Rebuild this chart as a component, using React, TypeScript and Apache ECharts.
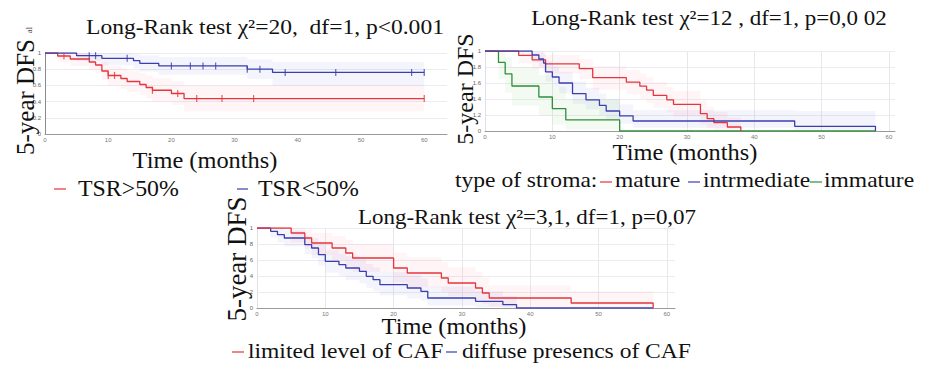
import React, { useEffect, useRef } from "react";
import * as echarts from "echarts";

// ---------- Chart 1 : TSR ----------
const C1_TITLE = "Long-Rank test χ²=20,  df=1, p<0.001";
const C1_LEGEND = ["TSR>50%", "TSR<50%"];
const C1_Y_TICKS = ["0", "0.2", "0.4", "0.6", "0.8", "1"];
const C1_RED_T = [0, 2, 4, 7, 8, 9, 10, 12, 13, 15, 16, 17, 20, 22];
const C1_RED_S = [1, 0.963, 0.926, 0.889, 0.852, 0.778, 0.722, 0.685, 0.648, 0.611, 0.574, 0.54, 0.5, 0.437];
const C1_RED_LO = [1, 0.89, 0.84, 0.79, 0.75, 0.66, 0.6, 0.56, 0.52, 0.48, 0.44, 0.4, 0.36, 0.28];
const C1_RED_HI = [1, 1, 1, 0.97, 0.95, 0.89, 0.84, 0.81, 0.78, 0.75, 0.72, 0.69, 0.65, 0.6];
const C1_RED_END = 60;
const C1_RED_CENSOR = [3, 10, 11, 17, 21, 24, 28, 33, 60];
const C1_BLUE_T = [0, 5, 9, 14, 15, 18, 32, 36];
const C1_BLUE_S = [1, 0.967, 0.934, 0.905, 0.872, 0.84, 0.8, 0.76];
const C1_BLUE_LO = [1, 0.9, 0.85, 0.81, 0.77, 0.73, 0.68, 0.6];
const C1_BLUE_HI = [1, 1, 1, 0.99, 0.97, 0.95, 0.92, 0.89];
const C1_BLUE_END = 60;
const C1_BLUE_CENSOR = [7, 8, 13, 20, 23, 25, 27, 32, 34, 38, 46, 58, 60];

// ---------- Chart 2 : type of stroma ----------
const C2_TITLE = "Long-Rank test χ²=12 , df=1, p=0,0 02";
const C2_LEGEND = ["type of stroma:", "mature", "intrmediate", "immature"];
const C2_Y_TICKS = ["0", "1.2", "1.4", "1.6", "1.8", "1"];
const C2_RED_T = [0, 5, 7, 9, 14, 16, 21, 23, 24, 25, 27, 28, 32, 33, 34, 36, 38];
const C2_RED_S = [1, 0.946, 0.89, 0.84, 0.78, 0.667, 0.61, 0.56, 0.51, 0.445, 0.39, 0.333, 0.217, 0.154, 0.104, 0.05, 0];
const C2_RED_LO = [1, 0.85, 0.78, 0.72, 0.65, 0.52, 0.46, 0.4, 0.35, 0.29, 0.23, 0.18, 0.08, 0.04, 0.01, 0, 0];
const C2_RED_HI = [1, 1, 0.98, 0.95, 0.9, 0.81, 0.76, 0.72, 0.67, 0.61, 0.55, 0.5, 0.38, 0.3, 0.24, 0.17, 0];
const C2_RED_END = 38;
const C2_BLUE_T = [0, 7, 8, 8.7, 9, 10, 11, 13, 15, 17, 18, 20, 22, 46, 58];
const C2_BLUE_S = [1, 0.95, 0.9, 0.85, 0.74, 0.675, 0.6, 0.467, 0.39, 0.32, 0.25, 0.19, 0.125, 0.058, 0];
const C2_BLUE_LO = [1, 0.86, 0.8, 0.74, 0.62, 0.55, 0.47, 0.34, 0.27, 0.2, 0.14, 0.09, 0.04, 0.01, 0];
const C2_BLUE_HI = [1, 1, 0.99, 0.96, 0.87, 0.81, 0.74, 0.62, 0.54, 0.47, 0.4, 0.33, 0.26, 0.25, 0];
const C2_BLUE_END = 58;
const C2_GREEN_T = [0, 2, 3, 4, 8, 10, 12, 20];
const C2_GREEN_S = [1, 0.857, 0.714, 0.5625, 0.425, 0.28, 0.14, 0];
const C2_GREEN_LO = [1, 0.65, 0.48, 0.32, 0.19, 0.08, 0.02, 0];
const C2_GREEN_HI = [1, 1, 0.92, 0.8, 0.7, 0.55, 0.4, 0];
const C2_GREEN_END = 58;

// ---------- Chart 3 : CAF ----------
const C3_TITLE = "Long-Rank test χ²=3,1, df=1, p=0,07";
const C3_LEGEND = ["limited level of CAF", "diffuse presencs of CAF"];
const C3_Y_TICKS = ["0", "2", "4", "6", "8", "1"];
const C3_RED_T = [0, 5, 7, 8, 11, 13, 14, 20, 22, 27, 28, 32, 33, 34, 46, 58];
const C3_RED_S = [1, 0.9375, 0.875, 0.8125, 0.75, 0.6875, 0.625, 0.5, 0.4375, 0.375, 0.3125, 0.25, 0.1875, 0.125, 0.0625, 0];
const C3_RED_LO = [1, 0.82, 0.74, 0.66, 0.59, 0.52, 0.45, 0.32, 0.26, 0.2, 0.15, 0.1, 0.05, 0.02, 0, 0];
const C3_RED_HI = [1, 1, 0.98, 0.94, 0.9, 0.85, 0.8, 0.69, 0.63, 0.57, 0.51, 0.45, 0.38, 0.28, 0.21, 0];
const C3_RED_END = 58;
const C3_BLUE_T = [0, 2, 3, 4, 7, 8, 9, 10, 12, 13, 15, 16, 17, 18, 22, 24, 25, 32, 36, 38];
const C3_BLUE_S = [1, 0.958, 0.917, 0.875, 0.792, 0.75, 0.667, 0.583, 0.542, 0.5, 0.458, 0.396, 0.354, 0.292, 0.25, 0.208, 0.125, 0.083, 0.042, 0];
const C3_BLUE_LO = [1, 0.88, 0.82, 0.77, 0.67, 0.62, 0.53, 0.44, 0.4, 0.35, 0.31, 0.25, 0.21, 0.16, 0.12, 0.09, 0.03, 0.01, 0, 0];
const C3_BLUE_HI = [1, 1, 1, 0.97, 0.9, 0.87, 0.8, 0.72, 0.68, 0.65, 0.61, 0.55, 0.51, 0.45, 0.41, 0.37, 0.27, 0.21, 0.15, 0];
const C3_BLUE_END = 58;

const X_TICKS = [0, 10, 20, 30, 40, 50, 60];

const RED = "#e5353d";
const BLUE = "#3b3fae";
const GREEN = "#2f8f3a";
const RED_BAND = "rgba(250,120,140,0.08)";
const BLUE_BAND = "rgba(120,120,215,0.08)";
const GREEN_BAND = "rgba(130,210,130,0.10)";
const SERIF = "Liberation Serif";
const SX = 1.07;

function stepData(t: number[], s: number[], end: number) {
  const d = t.map((v, i) => [v, s[i]]);
  if (end > t[t.length - 1]) d.push([end, s[s.length - 1]]);
  return d;
}
function bandData(t: number[], lo: number[], hi: number[], end: number) {
  const d: number[][] = [];
  for (let i = 0; i < t.length; i++) {
    const t1 = i + 1 < t.length ? t[i + 1] : end;
    if (t1 > t[i] && hi[i] > lo[i]) d.push([t[i], t1, lo[i], hi[i]]);
  }
  return d;
}
function lookup(t: number[], s: number[], x: number) {
  let v = s[0];
  for (let i = 0; i < t.length; i++) if (t[i] <= x) v = s[i];
  return v;
}

export default function App() {
  const ref = useRef<HTMLDivElement>(null);
  useEffect(() => {
    document.body.style.margin = "0";
    if (!ref.current) return;
    const chart = echarts.init(ref.current, undefined, { renderer: "svg" });

    const grids = [
      { left: 45, top: 53, width: 402, height: 81 },
      { left: 485, top: 51, width: 410, height: 80 },
      { left: 257, top: 228, width: 418, height: 80 },
    ];
    const xMax = [63.6, 60.9, 61.2];
    const yTicks = [C1_Y_TICKS, C2_Y_TICKS, C3_Y_TICKS];
    const vGrid = [false, true, true];

    const xAxis = grids.map((_, i) => ({
      type: "value",
      gridIndex: i,
      min: 0,
      max: xMax[i],
      interval: 10,
      axisTick: { show: false },
      axisLine: { show: true, lineStyle: { color: "#9a9a9a", width: 1 } },
      axisLabel: {
        fontSize: 6,
        color: "#777",
        margin: 3,
        showMaxLabel: false,
        formatter: (v: number) => (X_TICKS.indexOf(Math.round(v)) >= 0 && Math.abs(v - Math.round(v)) < 1e-6 ? String(Math.round(v)) : ""),
      },
      splitLine: { show: vGrid[i], showMaxLine: false, lineStyle: { color: "#e8e8ec", width: 1 } },
    }));
    const yAxis = grids.map((_, i) => ({
      type: "value",
      gridIndex: i,
      min: 0,
      max: 1,
      interval: 0.2,
      axisTick: { show: false },
      axisLine: { show: true, lineStyle: { color: i === 0 ? "#8a8a8a" : "#e0e0e4", width: 1 } },
      axisLabel: {
        fontSize: 6,
        color: "#666",
        margin: 4,
        formatter: (v: number) => yTicks[i][Math.round(v / 0.2)] ?? "",
      },
      splitLine: { show: true, lineStyle: { color: "#ececf0", width: 1 } },
    }));

    const series: any[] = [];
    const addBand = (g: number, t: number[], lo: number[], hi: number[], end: number, color: string) => {
      series.push({
        type: "custom",
        xAxisIndex: g,
        yAxisIndex: g,
        silent: true,
        encode: { x: [0, 1], y: [2, 3] },
        data: bandData(t, lo, hi, end),
        renderItem: (params: any, api: any) => {
          const p0 = api.coord([api.value(0), api.value(3)]);
          const p1 = api.coord([api.value(1), api.value(2)]);
          return {
            type: "rect",
            shape: { x: p0[0], y: p0[1], width: p1[0] - p0[0], height: p1[1] - p0[1] },
            style: { fill: color },
          };
        },
      });
    };
    const addLine = (g: number, t: number[], s: number[], end: number, color: string) => {
      series.push({
        type: "line",
        xAxisIndex: g,
        yAxisIndex: g,
        step: "end",
        showSymbol: false,
        symbol: "none",
        silent: true,
        data: stepData(t, s, end),
        lineStyle: { color, width: 1.3 },
        z: 5,
      });
    };
    const addCensor = (g: number, t: number[], s: number[], c: number[], color: string) => {
      series.push({
        type: "scatter",
        xAxisIndex: g,
        yAxisIndex: g,
        symbol: "rect",
        symbolSize: [1.2, 7],
        silent: true,
        data: c.map((x) => [x, lookup(t, s, x)]),
        itemStyle: { color },
        z: 6,
      });
    };

    addBand(0, C1_RED_T, C1_RED_LO, C1_RED_HI, C1_RED_END, RED_BAND);
    addBand(0, C1_BLUE_T, C1_BLUE_LO, C1_BLUE_HI, C1_BLUE_END, BLUE_BAND);
    addLine(0, C1_RED_T, C1_RED_S, C1_RED_END, RED);
    addLine(0, C1_BLUE_T, C1_BLUE_S, C1_BLUE_END, BLUE);
    addCensor(0, C1_RED_T, C1_RED_S, C1_RED_CENSOR, RED);
    addCensor(0, C1_BLUE_T, C1_BLUE_S, C1_BLUE_CENSOR, BLUE);

    addBand(1, C2_RED_T, C2_RED_LO, C2_RED_HI, C2_RED_END, RED_BAND);
    addBand(1, C2_BLUE_T, C2_BLUE_LO, C2_BLUE_HI, C2_BLUE_END, BLUE_BAND);
    addBand(1, C2_GREEN_T, C2_GREEN_LO, C2_GREEN_HI, C2_GREEN_END, GREEN_BAND);
    addLine(1, C2_GREEN_T, C2_GREEN_S, C2_GREEN_END, GREEN);
    addLine(1, C2_RED_T, C2_RED_S, C2_RED_END, RED);
    addLine(1, C2_BLUE_T, C2_BLUE_S, C2_BLUE_END, BLUE);

    addBand(2, C3_RED_T, C3_RED_LO, C3_RED_HI, C3_RED_END, RED_BAND);
    addBand(2, C3_BLUE_T, C3_BLUE_LO, C3_BLUE_HI, C3_BLUE_END, BLUE_BAND);
    addLine(2, C3_BLUE_T, C3_BLUE_S, C3_BLUE_END, BLUE);
    addLine(2, C3_RED_T, C3_RED_S, C3_RED_END, RED);

    const txt = (text: string, x: number, y: number, size: number, opts: any = {}) => ({
      type: "text",
      x,
      y,
      rotation: opts.rotation || 0,
      scaleX: opts.rotation ? 1 : SX,
      style: {
        text,
        fontFamily: SERIF,
        fontSize: size,
        fill: opts.fill || "#111",
        textAlign: opts.align || "left",
        textVerticalAlign: "middle",
      },
      z: 10,
    });
    const dash = (x1: number, x2: number, y: number, color: string) => ({
      type: "line",
      shape: { x1, y1: y, x2, y2: y },
      style: { stroke: color, lineWidth: 1.2 },
      z: 10,
    });
    const V = Math.PI / 2;

    const graphic: any[] = [
      // chart 1
      txt(C1_TITLE, 265, 27, 22, { align: "center" }),
      txt("5-year DFS", 25, 97, 25, { align: "center", rotation: V }),
      txt("al", 29, 30, 8, { align: "center", rotation: V, fill: "#444" }),
      txt("Time (months)", 205, 160, 22.8, { align: "center" }),
      dash(54, 66, 189, RED),
      txt(C1_LEGEND[0], 78, 188, 22.3),
      dash(237, 248, 189, BLUE),
      txt(C1_LEGEND[1], 258, 188, 22.3),
      // chart 2
      txt(C2_TITLE, 709, 18, 21.5, { align: "center" }),
      txt("5-year DFS", 465, 89, 24, { align: "center", rotation: V }),
      txt("Time (months)", 685, 152, 22.8, { align: "center" }),
      txt(C2_LEGEND[0], 455, 180, 22),
      dash(600, 612, 182, RED),
      txt(C2_LEGEND[1], 615, 180, 22),
      dash(688, 700, 182, BLUE),
      txt(C2_LEGEND[2], 703, 180, 22),
      dash(810, 822, 182, GREEN),
      txt(C2_LEGEND[3], 824, 180, 22),
      // chart 3
      txt(C3_TITLE, 527, 217, 21.5, { align: "center" }),
      txt("5-year DFS", 237, 259, 27, { align: "center", rotation: V }),
      txt("Time (months)", 454, 326, 22.8, { align: "center" }),
      dash(232, 244, 352, RED),
      txt(C3_LEGEND[0], 248, 351, 22),
      dash(446, 457, 352, BLUE),
      txt(C3_LEGEND[1], 462, 351, 22),
    ];

    chart.setOption({
      animation: false,
      backgroundColor: "#ffffff",
      grid: grids,
      xAxis,
      yAxis,
      series,
      graphic,
    });
    return () => chart.dispose();
  }, []);
  return <div ref={ref} style={{ width: 926, height: 365 }} />;
}
